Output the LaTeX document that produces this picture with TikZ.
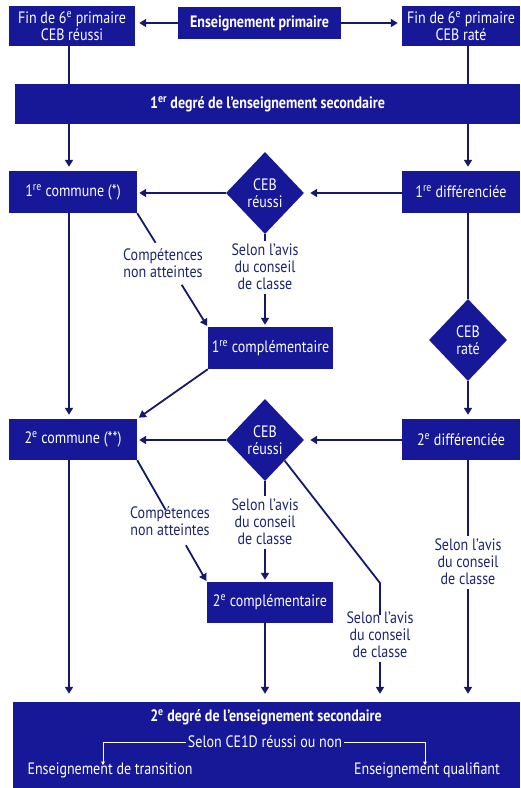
\documentclass[tikz,border=0pt]{standalone}
\usepackage{fontspec}
\setmainfont[FakeStretch=0.85]{PT Sans}
\usetikzlibrary{shapes.geometric,arrows.meta,calc}
\definecolor{boxblue}{RGB}{22,24,152}
\definecolor{linenavy}{RGB}{22,24,110}
\definecolor{labnavy}{RGB}{28,36,110}
\begin{document}
\begin{tikzpicture}[x=1pt,y=-1pt,
  txt/.style={font=\fontsize{16.5}{17}\selectfont},
  box/.style={txt, fill=boxblue, draw=none, text=white, inner sep=0pt, align=center},
  bbox/.style={box, font=\fontsize{16.5}{17}\selectfont\bfseries},
  dia/.style={txt, diamond, fill=boxblue, text=white, inner sep=0pt, minimum width=78pt, minimum height=82pt, align=center},
  lab/.style={txt, text=labnavy, align=center, inner sep=0pt},
  wlab/.style={txt, text=white, inner sep=0pt},
  conn/.style={draw=linenavy, line width=1.8pt},
  arr/.style={conn, -{Triangle[width=8pt,length=7pt]}, shorten >=4pt},
  warr/.style={draw=white, line width=0.8pt, -{Triangle[width=3.5pt,length=3.5pt]}},
]
\useasboundingbox (0,0) rectangle (520,788);
\coordinate (colL) at (69,0);
\coordinate (colM) at (265,0);
\coordinate (colR) at (468,0);

% top row
\node[box, minimum width=126pt, minimum height=40pt] (fin1) at (72,26) {Fin de 6\textsuperscript{e} primaire\\CEB réussi};
\node[bbox, minimum width=163pt, minimum height=32pt] (prim) at (259.5,23) {Enseignement primaire};
\node[box, minimum width=118pt, minimum height=40pt] (fin2) at (461,26) {Fin de 6\textsuperscript{e} primaire\\CEB raté};
\node[bbox, minimum width=505pt, minimum height=40pt] (deg1) at (267.5,104) {1\textsuperscript{er} degré de l'enseignement secondaire};

% first year
\node[box, minimum width=128pt, minimum height=42pt] (com1) at (73,192) {1\textsuperscript{re} commune (*)};
\node[dia] (dia1) at (265,193) {CEB\\réussi};
\node[box, minimum width=118pt, minimum height=42pt] (dif1) at (461,192) {1\textsuperscript{re} différenciée};
\node[lab] (lab1) at (163,263) {Compétences\\non atteintes};
\node[lab] (lab2) at (265,267) {Selon l'avis\\du conseil\\de classe};
\node[box, minimum width=125pt, minimum height=42pt] (comp1) at (270.5,348) {1\textsuperscript{re} complémentaire};
\node[dia] (rate) at (468,340) {CEB\\raté};

% second year
\node[box, minimum width=128pt, minimum height=41pt] (com2) at (73,439.5) {2\textsuperscript{e} commune (**)};
\node[dia] (dia2) at (265,440) {CEB\\réussi};
\node[box, minimum width=118pt, minimum height=41pt] (dif2) at (461,439.5) {2\textsuperscript{e} différenciée};
\node[lab] (lab3) at (170,521) {Compétences\\non atteintes};
\node[lab] (lab4) at (265,522) {Selon l'avis\\du conseil\\de classe};
\node[box, minimum width=126pt, minimum height=41pt] (comp2) at (270,602.5) {2\textsuperscript{e} complémentaire};
\node[lab] (lab5) at (380,635) {Selon l'avis\\du conseil\\de classe};
\node[lab] (lab6) at (468,562) {Selon l'avis\\du conseil\\de classe};
\coordinate (bend2) at (380,583);

% bottom bar
\node[box, minimum width=507pt, minimum height=86pt] (deg2) at (266.5,745) {};
\node[wlab, font=\fontsize{16.5}{17}\selectfont\bfseries] (deg2t) at (266,717) {2\textsuperscript{e} degré de l'enseignement secondaire};
\node[wlab] (ce1d) at (265,742) {Selon CE1D réussi ou non};
\node[wlab] (trans) at (110,770) {Enseignement de transition};
\node[wlab] (qual) at (427,770) {Enseignement qualifiant};
\coordinate (tl) at (103,742);
\coordinate (tr) at (425,742);
\draw[draw=white, line width=0.8pt] ([xshift=-2pt]ce1d.west) -- (tl);
\draw[draw=white, line width=0.8pt] ([xshift=2pt]ce1d.east) -- (tr);
\draw[warr] (tl) -- ([yshift=-3pt]trans.north -| tl);
\draw[warr] (tr) -- ([yshift=-3pt]qual.north -| tr);

% connectors top
\draw[arr] (prim.west) -- (prim.west -| fin1.east);
\draw[arr] (prim.east) -- (prim.east -| fin2.west);
\draw[conn] (fin1.south -| colL) -- (deg1.north -| colL);
\draw[conn] (fin2.south -| colR) -- (deg1.north -| colR);
\draw[arr] (deg1.south -| colL) -- (com1.north -| colL);
\draw[arr] (deg1.south -| colR) -- (dif1.north -| colR);

% first year connectors
\draw[arr, shorten >=6pt] (dif1.west |- dia1) -- (dia1.east);
\draw[arr, shorten >=2pt] (dia1.west) -- (dia1.west -| com1.east);
\path (com1.south east) -- (comp1.north west) coordinate[pos=0.26] (c1a) coordinate[pos=0.63] (c1b);
\draw[conn] (com1.south east) -- (c1a);
\draw[arr, shorten >=1pt] (c1b) -- (comp1.north west);
\draw[conn, shorten >=3pt] (dia1.south) -- (lab2.north);
\draw[arr, shorten <=4pt, shorten >=2pt] (lab2.south) -- (comp1.north -| colM);
\draw[conn] (dif1.south -| colR) -- (rate.north);
\draw[arr] (rate.south) -- (dif2.north -| colR);
\draw[arr, shorten >=2pt] (comp1.south west) -- (com2.north east);
\draw[arr] (com1.south -| colL) -- (com2.north -| colL);

% second year connectors
\draw[arr, shorten >=6pt] (dif2.west |- dia2) -- (dia2.east);
\draw[arr, shorten >=2pt] (dia2.west) -- (dia2.west -| com2.east);
\path (com2.south east) -- (comp2.north west) coordinate[pos=0.41] (c2a) coordinate[pos=0.70] (c2b);
\draw[conn] (com2.south east) -- (c2a);
\draw[arr, shorten >=1pt] (c2b) -- (comp2.north west);
\draw[conn, shorten >=3pt] (dia2.south) -- (lab4.north);
\draw[arr, shorten <=4pt, shorten >=2pt] (lab4.south) -- (comp2.north -| colM);
\draw[conn, line join=round] (dia2.south east) -- (bend2) -- ([yshift=-3pt]lab5.north);
\draw[arr, shorten <=4pt, shorten >=8pt] (lab5.south) -- (deg2.north -| lab5.south);
\draw[conn, shorten >=3pt] (dif2.south -| colR) -- (lab6.north);
\draw[arr, shorten <=4pt, shorten >=8pt] (lab6.south) -- (deg2.north -| colR);
\draw[arr, shorten >=8pt] (comp2.south -| colM) -- (deg2.north -| colM);
\draw[arr, shorten >=8pt] (com2.south -| colL) -- (deg2.north -| colL);
\end{tikzpicture}
\end{document}
